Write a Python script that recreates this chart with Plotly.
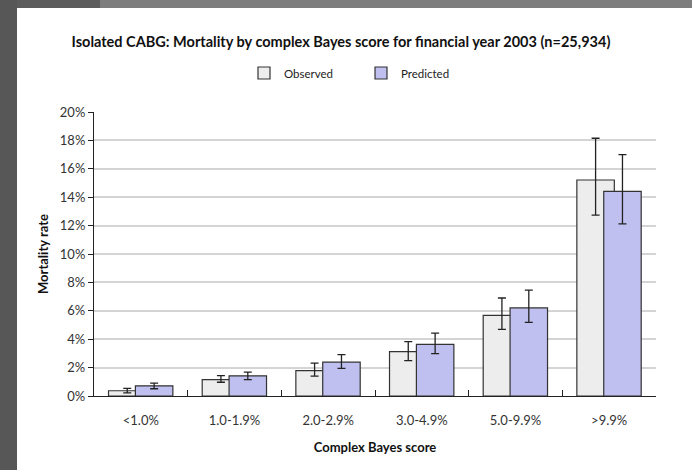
import plotly.graph_objects as go

categories = ["<1.0%", "1.0-1.9%", "2.0-2.9%", "3.0-4.9%", "5.0-9.9%", ">9.9%"]
observed = [0.37, 1.15, 1.79, 3.12, 5.68, 15.21]
observed_hi = [0.53, 1.43, 2.32, 3.83, 6.90, 18.15]
observed_lo = [0.22, 0.97, 1.40, 2.49, 4.69, 12.74]
predicted = [0.72, 1.42, 2.38, 3.63, 6.20, 14.41]
predicted_hi = [0.90, 1.68, 2.92, 4.43, 7.45, 17.00]
predicted_lo = [0.51, 1.16, 1.94, 2.98, 5.19, 12.12]

def frac(v):
    return [x / 100 for x in v]

FONT = "Lato"
W, H = 692, 470
L, R, T, B = 94, 36, 112, 74
pw, ph = W - L - R, H - T - B

def px_x(p):
    return (p - L) / pw

def px_y(p):
    return (H - B - p) / ph

fig = go.Figure()
err_style = dict(color="#222222", thickness=1.3, width=4)

fig.add_trace(go.Bar(
    name="Observed", x=categories, y=frac(observed),
    width=0.40, offset=-0.345,
    marker=dict(color="#ededed", line=dict(color="#333333", width=1.2)),
    error_y=dict(type="data", symmetric=False,
                 array=[h - v for h, v in zip(frac(observed_hi), frac(observed))],
                 arrayminus=[v - l for l, v in zip(frac(observed_lo), frac(observed))],
                 **err_style),
))
fig.add_trace(go.Bar(
    name="Predicted", x=categories, y=frac(predicted),
    width=0.40, offset=-0.058,
    marker=dict(color="#bfbff0", line=dict(color="#333333", width=1.2)),
    error_y=dict(type="data", symmetric=False,
                 array=[h - v for h, v in zip(frac(predicted_hi), frac(predicted))],
                 arrayminus=[v - l for l, v in zip(frac(predicted_lo), frac(predicted))],
                 **err_style),
))

shapes = [
    dict(type="rect", xref="paper", yref="paper", x0=px_x(0), x1=px_x(17), y0=px_y(H), y1=px_y(0),
         fillcolor="#575757", line=dict(width=0), layer="below"),
    dict(type="rect", xref="paper", yref="paper", x0=px_x(17), x1=px_x(100), y0=px_y(8), y1=px_y(0),
         fillcolor="#5c5c5c", line=dict(width=0), layer="below"),
    dict(type="rect", xref="paper", yref="paper", x0=px_x(100), x1=px_x(W), y0=px_y(8), y1=px_y(0),
         fillcolor="#7d7d7d", line=dict(width=0), layer="below"),
]

fig.update_layout(
    width=W, height=H,
    margin=dict(l=L, r=R, t=T, b=B, pad=0),
    paper_bgcolor="white", plot_bgcolor="white",
    barmode="overlay",
    font=dict(family=FONT, color="#222222", size=12),
    title=dict(text="<b>Isolated CABG: Mortality by complex Bayes score for financial year 2003 (n=25,934)</b>",
               x=px_x(341), xref="paper", xanchor="center", y=1 - 42 / H, yanchor="middle",
               font=dict(family=FONT, size=14.5, color="#111111")),
    legend=dict(orientation="h", x=px_x(244), xref="paper", xanchor="left",
                y=px_y(73), yanchor="middle", font=dict(family=FONT, size=11.5, color="#222222"),
                itemwidth=30, entrywidth=72, tracegroupgap=0, bgcolor="rgba(0,0,0,0)"),
    shapes=shapes,
    xaxis=dict(
        showline=True, linecolor="#222222", linewidth=1.2,
        ticks="inside", tickson="boundaries", ticklen=6, tickcolor="#222222",
        tickfont=dict(family=FONT, size=13, color="#333333"),
        ticklabelstandoff=12,
        title=dict(text="<b>Complex Bayes score</b>", font=dict(family=FONT, size=13, color="#111111"),
                   standoff=16),
        showgrid=False,
    ),
    yaxis=dict(
        range=[0, 0.20], dtick=0.02, tickformat=".0%",
        showline=True, linecolor="#222222", linewidth=1.2,
        ticks="outside", ticklen=5, tickcolor="#222222",
        showgrid=True, gridcolor="#d4d4d4", gridwidth=1.5,
        tickfont=dict(family=FONT, size=13, color="#333333"),
        title=dict(text="<b>Mortality rate</b>", font=dict(family=FONT, size=13, color="#111111"),
                   standoff=8),
        zeroline=False,
    ),
)

fig.write_html("out.html")
